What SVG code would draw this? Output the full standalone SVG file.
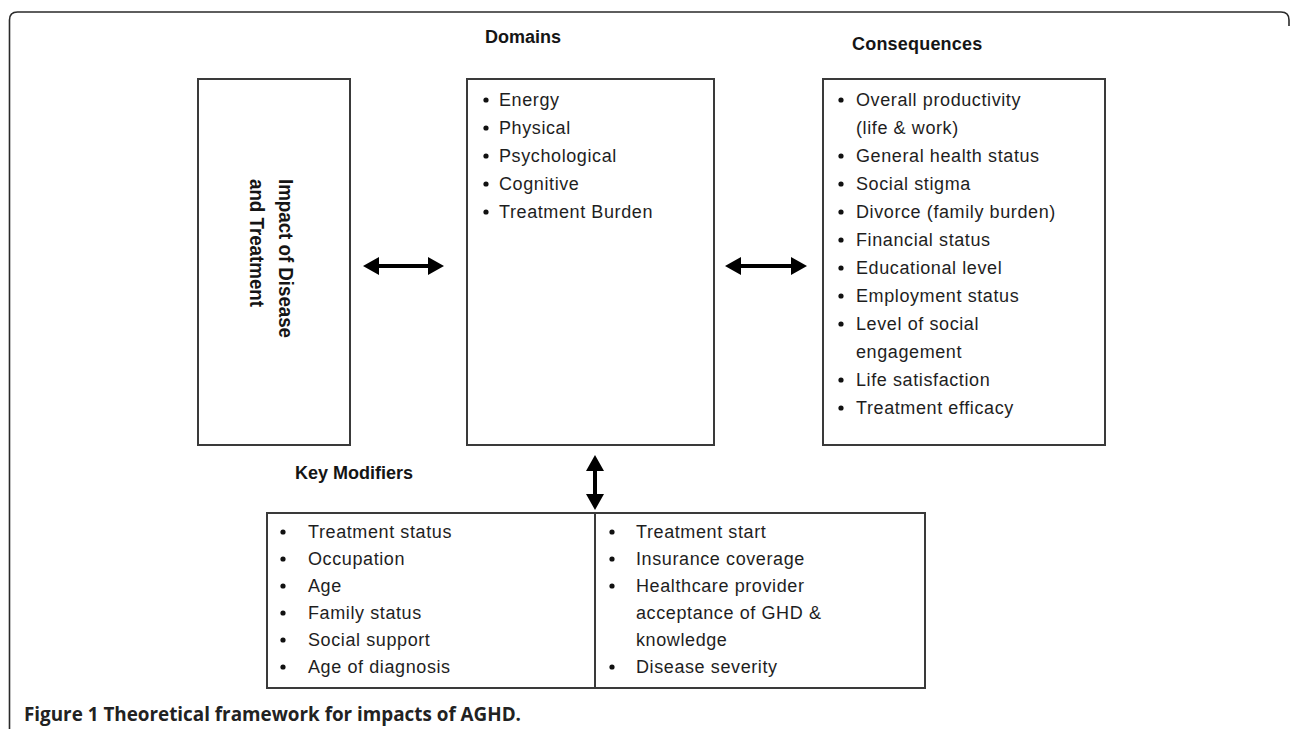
<svg xmlns="http://www.w3.org/2000/svg" width="1290" height="729" viewBox="0 0 1290 729">
<style>
.box{fill:#fff;stroke:#3a3a3a;stroke-width:2}
.frame{fill:none;stroke:#2a2a2a;stroke-width:1.6}
.item{font-family:"Liberation Sans",Arial,sans-serif;font-size:18px;letter-spacing:0.6px;fill:#1e1e1e}
.title{font-family:"Liberation Sans",Arial,sans-serif;font-size:18px;font-weight:bold;fill:#151515}
.vert{font-family:"Liberation Sans Narrow","Liberation Sans",Arial,sans-serif;font-size:21px;font-weight:bold;fill:#151515}
.cap{font-family:"Open Sans","Liberation Sans",sans-serif;font-size:19px;font-weight:bold;fill:#222}
.dot{fill:#111}
.arrow{fill:#000}
</style>
<rect width="1290" height="729" fill="#fff"/>
<path class="frame" d="M9.5,729 V20 Q9.5,12 17.5,12 H1281 Q1289,12 1289,20 V26"/>

<g id="impact">
<rect class="box" x="198" y="79" width="152" height="366"/>
<text class="vert" transform="translate(279,179) rotate(90)" textLength="159" lengthAdjust="spacingAndGlyphs">Impact of Disease</text>
<text class="vert" transform="translate(250,179) rotate(90)" textLength="128" lengthAdjust="spacingAndGlyphs">and Treatment</text>
</g>

<g id="domains">
<text class="title" x="485" y="43">Domains</text>
<rect class="box" x="467" y="79" width="247" height="366"/>
<g class="dot">
<circle cx="486" cy="100" r="2.6"/><circle cx="486" cy="128" r="2.6"/><circle cx="486" cy="156" r="2.6"/><circle cx="486" cy="184" r="2.6"/><circle cx="486" cy="212" r="2.6"/>
</g>
<text class="item" x="499" y="106">Energy</text>
<text class="item" x="499" y="134">Physical</text>
<text class="item" x="499" y="162">Psychological</text>
<text class="item" x="499" y="190">Cognitive</text>
<text class="item" x="499" y="218">Treatment Burden</text>
</g>

<g id="consequences">
<text class="title" x="852" y="50" letter-spacing="0.2">Consequences</text>
<rect class="box" x="823" y="79" width="282" height="366"/>
<g class="dot">
<circle cx="841" cy="100" r="2.6"/><circle cx="841" cy="156" r="2.6"/><circle cx="841" cy="184" r="2.6"/><circle cx="841" cy="212" r="2.6"/><circle cx="841" cy="240" r="2.6"/><circle cx="841" cy="268" r="2.6"/><circle cx="841" cy="296" r="2.6"/><circle cx="841" cy="324" r="2.6"/><circle cx="841" cy="380" r="2.6"/><circle cx="841" cy="408" r="2.6"/>
</g>
<text class="item" x="856" y="106">Overall productivity</text>
<text class="item" x="856" y="134">(life &amp; work)</text>
<text class="item" x="856" y="162">General health status</text>
<text class="item" x="856" y="190">Social stigma</text>
<text class="item" x="856" y="218">Divorce (family burden)</text>
<text class="item" x="856" y="246">Financial status</text>
<text class="item" x="856" y="274">Educational level</text>
<text class="item" x="856" y="302">Employment status</text>
<text class="item" x="856" y="330">Level of social</text>
<text class="item" x="856" y="358">engagement</text>
<text class="item" x="856" y="386">Life satisfaction</text>
<text class="item" x="856" y="414">Treatment efficacy</text>
</g>

<g id="modifiers">
<text class="title" x="295" y="479">Key Modifiers</text>
<rect class="box" x="267" y="513" width="658" height="175"/>
<line x1="595" y1="513" x2="595" y2="688" stroke="#3a3a3a" stroke-width="2"/>
<g class="dot">
<circle cx="283" cy="532" r="2.6"/><circle cx="283" cy="559" r="2.6"/><circle cx="283" cy="586" r="2.6"/><circle cx="283" cy="613" r="2.6"/><circle cx="283" cy="640" r="2.6"/><circle cx="283" cy="667" r="2.6"/>
<circle cx="612" cy="532" r="2.6"/><circle cx="612" cy="559" r="2.6"/><circle cx="612" cy="586" r="2.6"/><circle cx="612" cy="667" r="2.6"/>
</g>
<text class="item" x="308" y="538">Treatment status</text>
<text class="item" x="308" y="565">Occupation</text>
<text class="item" x="308" y="592">Age</text>
<text class="item" x="308" y="619">Family status</text>
<text class="item" x="308" y="646">Social support</text>
<text class="item" x="308" y="673">Age of diagnosis</text>
<text class="item" x="636" y="538">Treatment start</text>
<text class="item" x="636" y="565">Insurance coverage</text>
<text class="item" x="636" y="592">Healthcare provider</text>
<text class="item" x="636" y="619">acceptance of GHD &amp;</text>
<text class="item" x="636" y="646">knowledge</text>
<text class="item" x="636" y="673">Disease severity</text>
</g>

<g id="connectors">
<polygon class="arrow" points="363,266 379,257 379,264 428,264 428,257 444,266 428,275 428,268 379,268 379,275"/>
<polygon class="arrow" points="725,266 741,257 741,264 791,264 791,257 807,266 791,275 791,268 741,268 741,275"/>
<polygon class="arrow" points="595,455 604,471 597,471 597,494 604,494 595,510 586,494 593,494 593,471 586,471"/>
</g>

<text class="cap" x="24" y="721" textLength="497" lengthAdjust="spacingAndGlyphs">Figure 1 Theoretical framework for impacts of AGHD.</text>
</svg>
